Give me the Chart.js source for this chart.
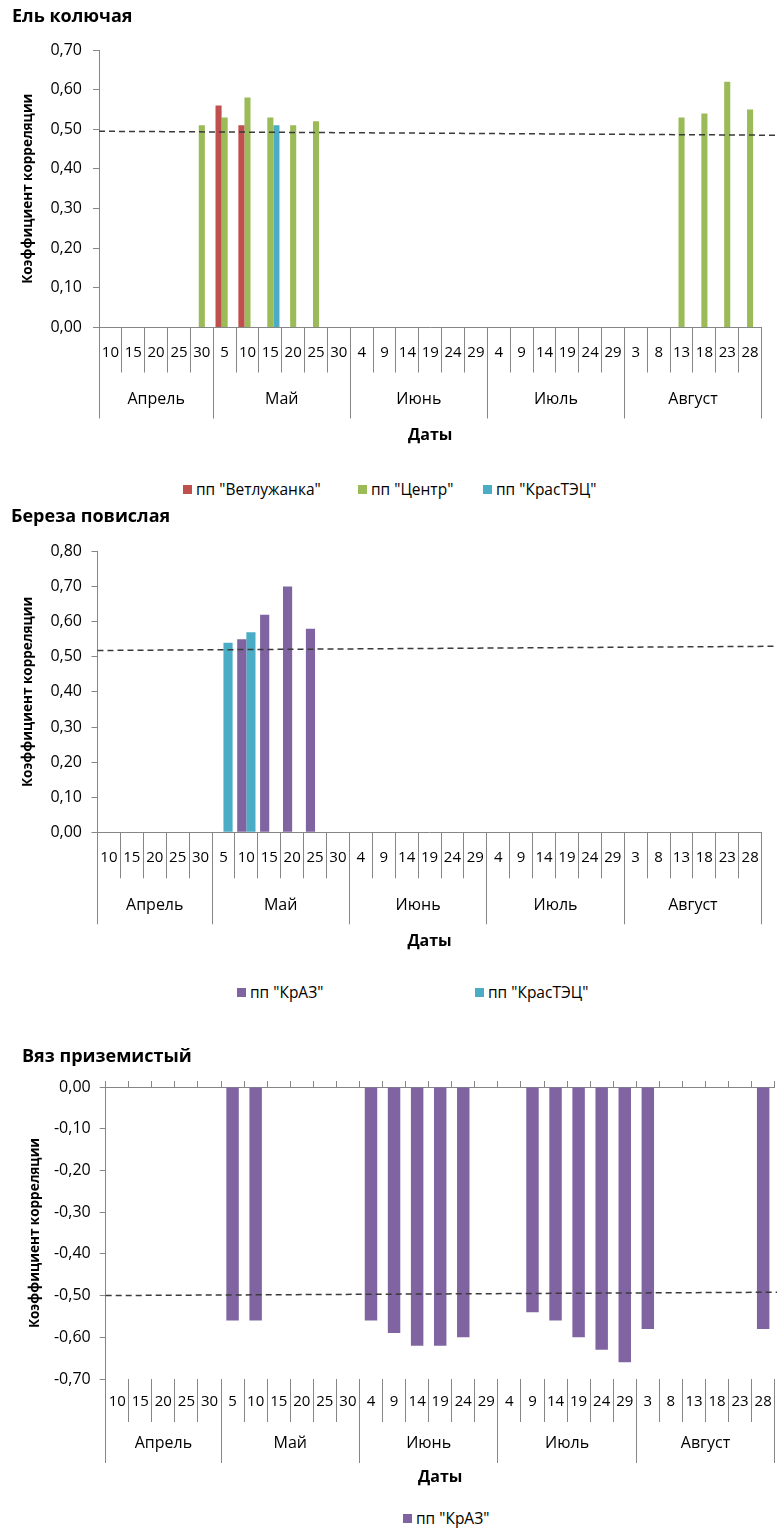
<!DOCTYPE html>
<html><head><meta charset="utf-8">
<script src="https://cdn.jsdelivr.net/npm/chart.js@4.4.1/dist/chart.umd.min.js"></script>
<style>
html,body{margin:0;padding:0;background:#fff}
body{width:777px;height:1531px;position:relative;overflow:hidden;font-family:'Open Sans',sans-serif}
.wrap{position:absolute;left:0;width:777px;height:450px}
canvas{display:block}
.lg{position:absolute;font-size:15.5px;line-height:18px;color:#000;white-space:nowrap;display:flex;align-items:center}
.sw{display:inline-block;width:9px;height:9px;margin-right:4px}
</style>
</head><body>
<div class="wrap" style="top:0px"><canvas id="c1" width="777" height="450"></canvas></div>
<div class="wrap" style="top:505px"><canvas id="c2" width="777" height="450"></canvas></div>
<div class="wrap" style="top:1040px"><canvas id="c3" width="777" height="450"></canvas></div>
<script>
// ---- data ----
const days = ['10','15','20','25','30','5','10','15','20','25','30','4','9','14','19','24','29','4','9','14','19','24','29','3','8','13','18','23','28'];
const months = ['Апрель','Май','Июнь','Июль','Август'];
const monthSizes = [5,6,6,6,6];

// Ель колючая
const spruceVetluzhanka = [null,null,null,null,null,0.56,0.51,null,null,null,null,null,null,null,null,null,null,null,null,null,null,null,null,null,null,null,null,null,null];
const spruceCentr = [null,null,null,null,0.51,0.53,0.58,0.53,0.51,0.52,null,null,null,null,null,null,null,null,null,null,null,null,null,null,null,0.53,0.54,0.62,0.55];
const spruceKrasTEC = [null,null,null,null,null,null,null,0.51,null,null,null,null,null,null,null,null,null,null,null,null,null,null,null,null,null,null,null,null,null];
const spruceTrendX = [-0.5, 29.18];
const spruceTrendY = [0.495, 0.485];

// Береза повислая
const birchKrAZ = [null,null,null,null,null,null,0.55,0.62,0.70,0.58,null,null,null,null,null,null,null,null,null,null,null,null,null,null,null,null,null,null,null];
const birchKrasTEC = [null,null,null,null,null,0.54,0.57,null,null,null,null,null,null,null,null,null,null,null,null,null,null,null,null,null,null,null,null,null,null];
const birchTrendX = [-0.5, 29.18];
const birchTrendY = [0.518, 0.53];

// Вяз приземистый
const elmKrAZ = [null,null,null,null,null,-0.56,-0.56,null,null,null,null,-0.56,-0.59,-0.62,-0.62,-0.60,null,null,-0.54,-0.56,-0.60,-0.63,-0.66,-0.58,null,null,null,null,-0.58];
const elmTrendX = [-0.5, 28.6];
const elmTrendY = [-0.50, -0.492];

// ---- helpers ----
Chart.defaults.font.family = "'Open Sans', sans-serif";
Chart.defaults.color = '#000';
const GRAY = '#868686';
const COLORS = {red:'#C0504D', green:'#9BBB59', blue:'#4BACC6', purple:'#8064A2'};

const monthBounds = [-0.5];
const monthCentres = [];
(function(){ let s = 0; monthSizes.forEach(n => { monthCentres.push(s + (n - 1) / 2); s += n; monthBounds.push(s - 0.5); }); })();
const monthTickValues = monthBounds.concat(monthCentres).sort((a,b)=>a-b);
const isBound = v => monthBounds.some(b => Math.abs(b - v) < 1e-6);
const monthLabel = v => { const i = monthCentres.findIndex(c => Math.abs(c - v) < 1e-6); return i >= 0 ? months[i] : ''; };
const fmt = v => (Math.abs(v) < 1e-9 ? 0 : v).toFixed(2).replace('.', ',');

// dashed trend line, drawn through the chart's own scales (may run past the plot edge)
const trendPlugin = {
  id:'trend',
  afterDatasetsDraw(chart, args, opts) {
    if (!opts || !opts.x) return;
    const xs = chart.scales.xm, ys = chart.scales.y, ctx = chart.ctx;
    ctx.save();
    ctx.strokeStyle = opts.color; ctx.lineWidth = opts.width; ctx.setLineDash(opts.dash);
    ctx.beginPath();
    opts.x.forEach((xv, i) => {
      const px = xs.getPixelForValue(xv), py = ys.getPixelForValue(opts.y[i]);
      if (i === 0) ctx.moveTo(px, py); else ctx.lineTo(px, py);
    });
    ctx.stroke();
    ctx.restore();
  }
};

function build(id, o) {
  const datasets = o.series.map(s => ({
    type:'bar', label:s.name, data:s.values, backgroundColor:s.color, borderWidth:0,
    categoryPercentage:o.catPct, barPercentage:1, xAxisID:'x', yAxisID:'y'
  }));
  const scales = {
    x: {type:'category', labels:days, position:'bottom', offset:true, weight:0,
        border:{display:o.bottomBorder, color:GRAY, width:1},
        grid:{drawOnChartArea:false, drawTicks:true, tickLength:o.dayTick, color:GRAY, offset:true},
        ticks:{autoSkip:false, maxRotation:0, minRotation:0, padding:o.dayPad, color:'#000', font:{size:15}},
        afterFit: s => { s.height = o.dayH; }},
    xm: {type:'linear', axis:'x', position:'bottom', min:-0.5, max:28.5, weight:1, offset:false,
        border:{display:false},
        grid:{offset:false, drawOnChartArea:false, drawTicks:true, tickLength:o.monthTick,
              color: c => (c.tick && isBound(c.tick.value)) ? GRAY : 'rgba(0,0,0,0)'},
        afterBuildTicks: s => { s.ticks = monthTickValues.map(v => ({value:v})); },
        ticks:{autoSkip:false, maxRotation:0, minRotation:0, padding:o.monthPad, color:'#000', font:{size:16},
               callback: v => monthLabel(v)},
        title:{display:true, text:'Даты', color:'#000', font:{size:16, weight:'bold'}, padding:0},
        afterFit: s => { s.height = o.monthH; }},
    y: {type:'linear', position:'left', min:o.yMin, max:o.yMax,
        border:{display:true, color:GRAY, width:1},
        grid:{drawOnChartArea:false, drawTicks:true, tickLength:6, color:GRAY},
        ticks:{stepSize:0.1, padding:o.yPad, color:'#000', font:{size:16}, callback: v => fmt(v)},
        title:{display:true, text:'Коэффициент корреляции', color:'#000', font:{size:13.5, weight:'bold'}, padding:{top:o.yTitlePad, bottom:0}},
        afterFit: s => { s.width = o.yW; }}
  };
  if (o.topAxis) {
    scales.xt = {type:'category', labels:days, position:'top', offset:true,
        border:{display:true, color:GRAY, width:1},
        grid:{drawOnChartArea:false, drawTicks:true, tickLength:6, color:GRAY, offset:true},
        ticks:{display:false},
        afterFit: s => { s.height = 6; }};
  }
  return new Chart(document.getElementById(id), {
    type:'bar',
    data:{labels:days, datasets:datasets},
    plugins:[trendPlugin],
    options:{
      responsive:false, animation:false, devicePixelRatio:1,
      layout:{padding:o.pad},
      plugins:{
        legend:{display:false}, tooltip:{enabled:false},
        title:{display:true, text:o.title, align:'start', color:'#000', font:{size:18, weight:'bold'}, padding:o.titlePad},
        trend:{x:o.trendX, y:o.trendY, color:'#3a3a3a', width:1.5, dash:[6,4]}
      },
      scales:scales
    }
  });
}

function htmlLegend(top, series, lefts) {
  series.forEach((s, i) => {
    const d = document.createElement('div');
    d.className = 'lg';
    d.style.left = lefts[i] + 'px';
    d.style.top = (top - 9) + 'px';
    const sw = document.createElement('span');
    sw.className = 'sw';
    sw.style.background = s.color;
    d.appendChild(sw);
    d.appendChild(document.createTextNode(s.name));
    document.body.appendChild(d);
  });
}

// ---- chart 1: Ель колючая ----
const s1 = [
  {name:'пп "Ветлужанка"', values:spruceVetluzhanka, color:COLORS.red},
  {name:'пп "Центр"', values:spruceCentr, color:COLORS.green},
  {name:'пп "КрасТЭЦ"', values:spruceKrasTEC, color:COLORS.blue}
];
build('c1', {
  title:'Ель колючая', series:s1, catPct:0.8, yMin:0, yMax:0.7,
  trendX:spruceTrendX, trendY:spruceTrendY, bottomBorder:true, topAxis:false,
  pad:{left:12, right:15.5, top:0, bottom:4.5}, titlePad:{top:6.2, bottom:22.2},
  yW:87, yPad:11, yTitlePad:8,
  dayTick:45, dayPad:-29, dayH:34, monthTick:57, monthPad:-28.6, monthH:84
});
htmlLegend(489, s1, [183, 358, 483]);

// ---- chart 2: Береза повислая ----
const s2 = [
  {name:'пп "КрАЗ"', values:birchKrAZ, color:COLORS.purple},
  {name:'пп "КрасТЭЦ"', values:birchKrasTEC, color:COLORS.blue}
];
build('c2', {
  title:'Береза повислая', series:s2, catPct:0.8, yMin:0, yMax:0.8,
  trendX:birchTrendX, trendY:birchTrendY, bottomBorder:true, topAxis:false,
  pad:{left:11, right:15.4, top:0, bottom:3.8}, titlePad:{top:1.2, bottom:23.7},
  yW:86.5, yPad:9.5, yTitlePad:9,
  dayTick:46, dayPad:-30, dayH:34, monthTick:58, monthPad:-28.9, monthH:84.9
});
htmlLegend(992, s2, [237, 475]);

// ---- chart 3: Вяз приземистый ----
const s3 = [
  {name:'пп "КрАЗ"', values:elmKrAZ, color:COLORS.purple}
];
build('c3', {
  title:'Вяз приземистый', series:s3, catPct:0.54, yMin:-0.7, yMax:0,
  trendX:elmTrendX, trendY:elmTrendY, bottomBorder:false, topAxis:true,
  pad:{left:22, right:2.3, top:0, bottom:2.5}, titlePad:{top:6.2, bottom:13.2},
  yW:83.7, yPad:9, yTitlePad:5.2,
  dayTick:43, dayPad:-29.3, dayH:32, monthTick:52, monthPad:-29.6, monthH:76.5
});
htmlLegend(1518, s3, [403]);
</script>
</body></html>
